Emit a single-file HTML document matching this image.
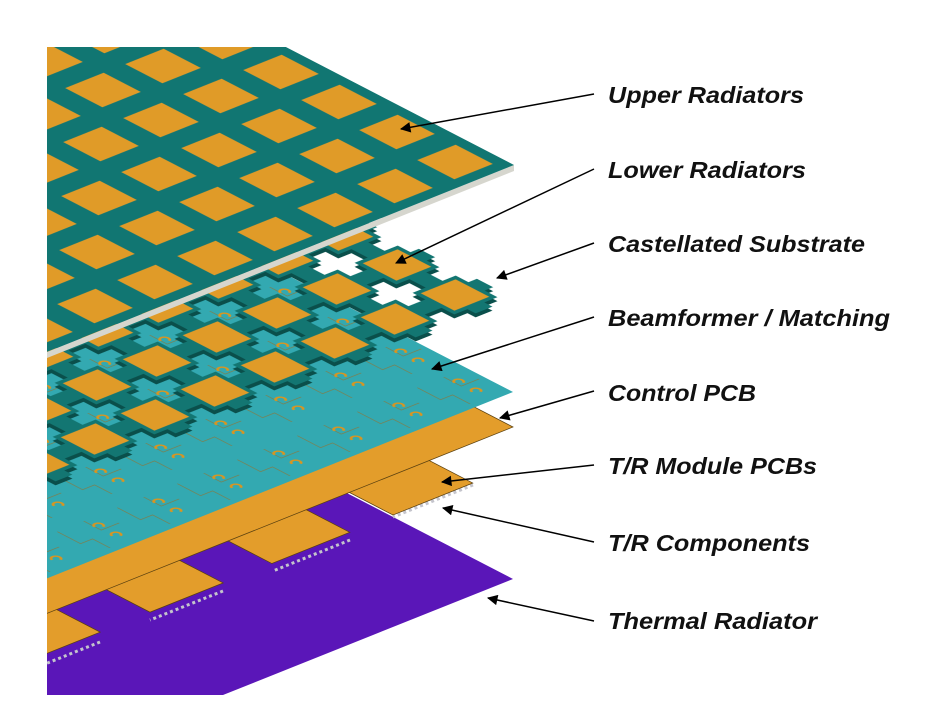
<!DOCTYPE html>
<html><head><meta charset="utf-8"><style>html,body{margin:0;padding:0;background:#fff;width:939px;height:726px;overflow:hidden}svg{display:block}</style></head>
<body>
<svg width="939" height="726" viewBox="0 0 939 726" xmlns="http://www.w3.org/2000/svg">
<defs>
<clipPath id="cl"><rect x="47" y="47" width="892" height="648"/></clipPath>
<pattern id="pp" patternUnits="userSpaceOnUse" width="1" height="1"><rect x=".18" y=".18" width=".64" height=".64" fill="#e09b28"/></pattern>
<pattern id="pc" patternUnits="userSpaceOnUse" width="1" height="1"><rect x=".21" y=".21" width=".58" height=".58" fill="#e09b28"/></pattern>
<pattern id="cr" patternUnits="userSpaceOnUse" x=".5" y=".5" width="1" height="1"><path d="M.36,.14H.64V.36H.86V.64H.64V.86H.36V.64H.14V.36H.36Z" fill="#000"/></pattern>
<mask id="mk" maskUnits="userSpaceOnUse" maskContentUnits="userSpaceOnUse" x="-2" y="-2" width="20" height="20"><rect x="-2" y="-2" width="20" height="20" fill="#fff"/><rect x="-2" y="-2" width="20" height="20" fill="url(#cr)"/></mask>
<pattern id="hk" patternUnits="userSpaceOnUse" width="1" height="1">
<path d="M.1,.62h.3v.2h.4M.5,.08v.3h.3" stroke="#7f7d4a" stroke-width=".014" fill="none"/>
<path d="M.25,.3a.06,.06 0 1 1 .06,.08M.55,.3a.06,.06 0 1 1 .06,.08" stroke="#d99520" stroke-width=".035" fill="none"/>
</pattern>
<marker id="ar" viewBox="0 0 10 10" refX="9" refY="5" markerWidth="9" markerHeight="7" orient="auto" markerUnits="strokeWidth"><path d="M0,0L10,5L0,10z" fill="#000"/></marker>
</defs>
<g clip-path="url(#cl)">
<g transform="matrix(-58,-30,-60,24,513,579)"><rect x="0" y="0" width="3" height="12" fill="#5a16b8"/></g>
<g stroke="#c4c4cc" stroke-width="3" stroke-dasharray="3 3">
<line x1="473" y1="485" x2="393" y2="517"/>
<line x1="350" y1="540" x2="273" y2="571"/>
<line x1="223" y1="591" x2="150" y2="620"/>
<line x1="100" y1="642" x2="30" y2="670"/>
</g>
<g transform="matrix(-58,-30,-60,24,513,467)" fill="#e39d2b" stroke="#5a4010" stroke-width=".015">
<rect x="0" y="0.67" width="1.6" height="1.33"/>
<rect x="0" y="2.72" width="1.6" height="1.3"/>
<rect x="0" y="4.83" width="1.6" height="1.22"/>
<rect x="0" y="6.88" width="1.6" height="1.3"/>
</g>
<g transform="matrix(-58,-30,-60,24,513,427)"><rect x="0" y="0" width="8" height="12" fill="#e39d2b" stroke="#5a4010" stroke-width=".015"/></g>
<g transform="matrix(-58,-30,-60,24,513,392)"><rect x="0" y="0" width="8" height="12" fill="#33a9b1"/><rect x="0" y="0" width="8" height="12" fill="url(#hk)"/></g>
<g transform="translate(0,4) matrix(-58,-30,-60,24,514,298)"><rect x="0" y="0" width="7" height="10" fill="#0a4f4b" mask="url(#mk)"/></g>
<g transform="matrix(-58,-30,-60,24,514,298)"><rect x="0" y="0" width="7" height="10" fill="#137672" mask="url(#mk)"/><rect x="0" y="0" width="7" height="10" fill="url(#pc)"/></g>
<polygon points="514,165 514,171 47,358 47,352" fill="#d6d6ce"/>
<g transform="matrix(-58,-30,-60,24,514,165)"><rect x="0" y="0" width="10" height="12" fill="#117672"/><rect x="0" y="0" width="10" height="12" fill="url(#pp)"/></g>
</g>
<g stroke="#000" stroke-width="1.5" marker-end="url(#ar)">
<line x1="594" y1="94" x2="401" y2="129"/>
<line x1="594" y1="169" x2="396" y2="263"/>
<line x1="594" y1="243" x2="497" y2="278"/>
<line x1="594" y1="317" x2="432" y2="369"/>
<line x1="594" y1="391" x2="500" y2="418"/>
<line x1="594" y1="465" x2="442" y2="482"/>
<line x1="594" y1="542" x2="443" y2="508"/>
<line x1="594" y1="621" x2="488" y2="598"/>
</g>
<g font-family="Liberation Sans, Arial, sans-serif" font-weight="bold" font-style="italic" font-size="23" fill="#111">
<text x="608" y="103" textLength="196" lengthAdjust="spacingAndGlyphs">Upper Radiators</text>
<text x="608" y="178" textLength="198" lengthAdjust="spacingAndGlyphs">Lower Radiators</text>
<text x="608" y="252" textLength="257" lengthAdjust="spacingAndGlyphs">Castellated Substrate</text>
<text x="608" y="326" textLength="282" lengthAdjust="spacingAndGlyphs">Beamformer / Matching</text>
<text x="608" y="401" textLength="148" lengthAdjust="spacingAndGlyphs">Control PCB</text>
<text x="608" y="474" textLength="209" lengthAdjust="spacingAndGlyphs">T/R Module PCBs</text>
<text x="608" y="551" textLength="202" lengthAdjust="spacingAndGlyphs">T/R Components</text>
<text x="608" y="629" textLength="209" lengthAdjust="spacingAndGlyphs">Thermal Radiator</text>
</g>
</svg>
</body></html>
